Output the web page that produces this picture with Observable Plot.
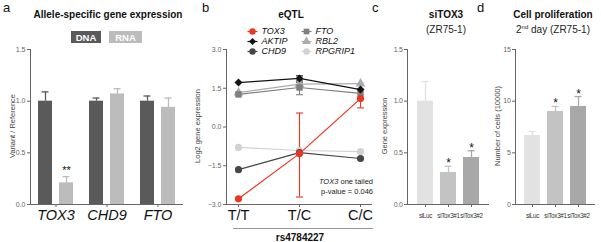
<!DOCTYPE html>
<html>
<head>
<meta charset="utf-8">
<script src="https://cdn.jsdelivr.net/npm/d3@7"></script>
<script src="https://cdn.jsdelivr.net/npm/@observablehq/plot@0.6"></script>
<style>
  body { margin: 0; background: #fff; }
  #fig { position: relative; width: 601px; height: 242px; overflow: hidden; background: #fff; }
  #fig svg { position: absolute; top: 0; }
</style>
</head>
<body>
<div id="fig"></div>
<script>
// ---------- DATA ----------
// a: allele-specific expression
const genesA = ["TOX3", "CHD9", "FTO"];
const allelesA = ["DNA", "RNA"];
const ratioA = [1.00, 0.21, 1.00, 1.07, 1.00, 0.94];   // gene x allele
const errHiA = [1.09, 0.27, 1.03, 1.12, 1.05, 1.03];
const starA = ["", "**", "", "", "", ""];
const ticksA = [0, 0.5, 1.0, 1.5];

// b: eQTL
const genotypes = ["T/T", "T/C", "C/C"];
const seriesB = ["TOX3", "AKTIP", "CHD9", "FTO", "RBL2", "RPGRIP1"];
const tox3 = [-2.78, -1.03, 1.10];
const aktip = [1.72, 1.88, 1.45];
const chd9 = [-1.65, -0.99, -1.22];
const fto = [1.26, 1.53, 1.30];
const rbl2 = [1.33, 1.66, 1.68];
const rpgrip1 = [-0.79, -0.91, -0.95];
const errSeriesB = ["TOX3", "TOX3", "AKTIP", "FTO"];
const errGenoB = ["T/C", "C/C", "T/C", "T/C"];
const errLoB = [-2.71, 0.74, 1.74, 1.25];
const errHiB = [0.54, 1.46, 1.98, 1.80];
const ticksB = [-3, -1.5, 0, 1.5, 3];

// c: siTOX3 gene expression
const condC = ["siLuc", "siTox3#1", "siTox3#2"];
const exprC = [1.00, 0.31, 0.455];
const errHiC = [1.19, 0.37, 0.52];
const starC = ["", "*", "*"];
const ticksC = [0, 0.5, 1.0, 1.5];

// d: cell proliferation
const cellsD = [6.68, 9.00, 9.49];
const errHiD = [7.07, 9.49, 10.45];
const starD = ["", "*", "*"];
const ticksD = [0, 5, 10, 15];

// ---------- STYLES ----------
const FONT = '"Liberation Sans", Arial, Helvetica, sans-serif';
const AXIS = "#666";
const alleleColors = ["#5a5a5a", "#bcbcbc"];
const condColors = ["#e2e2e2", "#c3c3c3", "#a8a8a8"];
const seriesColors = ["#ee3423", "#141414", "#474747", "#7f7f7f", "#ababab", "#d2d2d2"];
const seriesSymbols = ["circle", "diamond2", "circle", "square", "triangle", "circle"];
// horizontal dash symbol (for error-bar caps and legend line keys)
const dash = {draw(ctx, size) { const w = Math.sqrt(size / Math.PI); ctx.moveTo(-w, 0); ctx.lineTo(w, 0); }};

const fig = document.getElementById("fig");
function place(node, left) { node.style.left = left + "px"; fig.appendChild(node); }
const baseStyle = {fontFamily: FONT, background: "transparent", overflow: "visible", color: AXIS};
const narrowStyle = {...baseStyle, letterSpacing: "-0.3px"};

// ---------- PANEL A ----------
const dataA = genesA.flatMap((g, i) => allelesA.map((a, j) => ({
  gene: g, allele: a, value: ratioA[i * 2 + j], hi: errHiA[i * 2 + j], star: starA[i * 2 + j]
})));
const plotA = Plot.plot({
  width: 200, height: 242, marginLeft: 29, marginRight: 17, marginTop: 49, marginBottom: 38,
  style: baseStyle,
  fx: {domain: genesA, paddingInner: 0, paddingOuter: 0, label: null},
  x: {domain: allelesA, paddingInner: 0.32, paddingOuter: 0.36, axis: null},
  y: {domain: [0, 1.5], label: null},
  color: {domain: allelesA, range: alleleColors},
  marks: [
    Plot.ruleX(dataA, {fx: "gene", x: "allele", y1: "value", y2: "hi", stroke: "allele", strokeWidth: 1.3}),
    Plot.tickY(dataA, {fx: "gene", x: "allele", y: "hi", stroke: "allele", strokeWidth: 1.3, insetLeft: 3.5, insetRight: 3.5}),
    Plot.barY(dataA, {fx: "gene", x: "allele", y: "value", fill: "allele"}),
    Plot.text(dataA, {fx: "gene", x: "allele", y: "hi", text: "star", lineAnchor: "bottom", dy: -3, fontSize: 11, fill: "#111"}),
    Plot.ruleY([0], {stroke: AXIS}),
    Plot.frame({anchor: "left", facetAnchor: "left", stroke: AXIS}),
    Plot.axisY({ticks: ticksA, tickFormat: d3.format(".1f"), tickSize: 3, tickPadding: 2, fontSize: 7, label: null}),
    Plot.axisFx({anchor: "bottom", tickSize: 3, tickPadding: 2, fontSize: 14.5, fontStyle: "italic", fill: "#111", label: null})
  ]
});
place(plotA, 0);

// ---------- PANEL B ----------
const valuesB = {TOX3: tox3, AKTIP: aktip, CHD9: chd9, FTO: fto, RBL2: rbl2, RPGRIP1: rpgrip1};
const drawOrder = seriesB.slice().reverse();
const dataB = drawOrder.flatMap(s => genotypes.map((g, i) => ({series: s, geno: g, value: valuesB[s][i]})));
const errB = errSeriesB.map((s, i) => ({series: s, geno: errGenoB[i], lo: errLoB[i], hi: errHiB[i]}));
const colorB = {domain: seriesB, range: seriesColors};
const symbolB = {domain: seriesB, range: seriesSymbols};
const plotB = Plot.plot({
  width: 180, height: 242, marginLeft: 26, marginRight: 8, marginTop: 49, marginBottom: 38,
  style: baseStyle,
  x: {type: "point", domain: genotypes, padding: 0.18, label: null},
  y: {domain: [-3, 3], label: null},
  color: colorB,
  symbol: symbolB,
  marks: [
    Plot.ruleY([-3], {stroke: AXIS}),
    Plot.frame({anchor: "left", stroke: AXIS}),
    Plot.ruleX(errB, {x: "geno", y1: "lo", y2: "hi", stroke: "series", strokeWidth: 1.1}),
    Plot.dot(errB, {x: "geno", y: "lo", symbol: dash, r: 3.5, stroke: "series", strokeWidth: 1.1}),
    Plot.dot(errB, {x: "geno", y: "hi", symbol: dash, r: 3.5, stroke: "series", strokeWidth: 1.1}),
    Plot.line(dataB, {x: "geno", y: "value", z: "series", stroke: "series", strokeWidth: 1.2}),
    Plot.dot(dataB, {x: "geno", y: "value", symbol: "series", fill: "series", stroke: "none", r: 3.6}),
    Plot.axisY({ticks: ticksB, tickFormat: d3.format(".1f"), tickSize: 3, tickPadding: 2, fontSize: 7, label: null}),
    Plot.axisX({tickSize: 3, tickPadding: 2, fontSize: 14.5, fill: "#111", label: null})
  ]
});
place(plotB, 200);

// legend for b (column-major, 3 rows)
const legB = seriesB.map((s, i) => ({name: s, col: Math.floor(i / 3), row: i % 3}));
const legendB = Plot.plot({
  width: 180, height: 60, marginLeft: 0, marginRight: 0, marginTop: 0, marginBottom: 0,
  style: baseStyle,
  x: {type: "point", domain: [0, 1], range: [52, 106], padding: 0, axis: null},
  y: {type: "point", domain: [0, 1, 2], range: [30.5, 51], padding: 0, axis: null},
  color: colorB,
  symbol: symbolB,
  marks: [
    Plot.dot(legB, {x: "col", y: "row", symbol: dash, r: 5, stroke: "name", strokeWidth: 1.2}),
    Plot.dot(legB, {x: "col", y: "row", symbol: "name", fill: "name", stroke: "none", r: 3.2}),
    Plot.text(legB, {x: "col", y: "row", text: "name", dx: 9, textAnchor: "start", fontSize: 9, fontStyle: "italic", fill: "#111"})
  ]
});
place(legendB, 200);

// ---------- PANEL C ----------
const dataC = condC.map((c, i) => ({cond: c, value: exprC[i], hi: errHiC[i], star: starC[i]}));
const colorCD = {domain: condC, range: condColors};
const plotC = Plot.plot({
  width: 125, height: 242, marginLeft: 37, marginRight: 6, marginTop: 49, marginBottom: 38,
  style: narrowStyle,
  x: {domain: condC, paddingInner: 0.32, paddingOuter: 0.42, label: null},
  y: {domain: [0, 1.5], label: null},
  color: colorCD,
  marks: [
    Plot.ruleX(dataC, {x: "cond", y1: "value", y2: "hi", stroke: "cond", strokeWidth: 1.3}),
    Plot.tickY(dataC, {x: "cond", y: "hi", stroke: "cond", strokeWidth: 1.3, insetLeft: 4.5, insetRight: 4.5}),
    Plot.barY(dataC, {x: "cond", y: "value", fill: "cond"}),
    Plot.text(dataC, {x: "cond", y: "hi", text: "star", lineAnchor: "bottom", dy: 1, fontSize: 12, fill: "#111"}),
    Plot.ruleY([0], {stroke: AXIS}),
    Plot.frame({anchor: "left", stroke: AXIS}),
    Plot.axisY({ticks: ticksC, tickFormat: d3.format(".1f"), tickSize: 3, tickPadding: 2, fontSize: 7, label: null}),
    Plot.axisX({tickSize: 3, tickPadding: 6, fontSize: 6.3, fill: "#333", label: null})
  ]
});
place(plotC, 370);

// ---------- PANEL D ----------
const dataD = condC.map((c, i) => ({cond: c, value: cellsD[i], hi: errHiD[i], star: starD[i]}));
const plotD = Plot.plot({
  width: 106, height: 242, marginLeft: 20, marginRight: 6, marginTop: 49, marginBottom: 38,
  style: narrowStyle,
  x: {domain: condC, paddingInner: 0.3, paddingOuter: 0.36, label: null},
  y: {domain: [0, 15], label: null},
  color: colorCD,
  marks: [
    Plot.ruleX(dataD, {x: "cond", y1: "value", y2: "hi", stroke: "cond", strokeWidth: 1.3}),
    Plot.tickY(dataD, {x: "cond", y: "hi", stroke: "cond", strokeWidth: 1.3, insetLeft: 4.5, insetRight: 4.5}),
    Plot.barY(dataD, {x: "cond", y: "value", fill: "cond"}),
    Plot.text(dataD, {x: "cond", y: "hi", text: "star", lineAnchor: "bottom", dy: 1, fontSize: 12, fill: "#111"}),
    Plot.ruleY([0], {stroke: AXIS}),
    Plot.frame({anchor: "left", stroke: AXIS}),
    Plot.axisY({ticks: ticksD, tickFormat: d3.format("d"), tickSize: 3, tickPadding: 2, fontSize: 7, label: null}),
    Plot.axisX({tickSize: 3, tickPadding: 6, fontSize: 6.3, fill: "#333", label: null})
  ]
});
place(plotD, 495);

// ---------- TEXT OVERLAY ----------
const ov = d3.create("svg").attr("width", 601).attr("height", 242)
  .style("left", "0px").style("font-family", FONT).style("overflow", "visible");
function t(str, x, y, o = {}) {
  const el = ov.append("text").attr("x", x).attr("y", y)
    .attr("font-size", o.size || 10).attr("fill", o.fill || "#111")
    .attr("text-anchor", o.anchor || "start");
  if (o.weight) el.attr("font-weight", o.weight);
  if (o.style) el.attr("font-style", o.style);
  if (o.rotate) el.attr("transform", `rotate(-90 ${x} ${y})`).attr("dy", "0.35em");
  el.text(str);
  return el;
}
// panel letters
t("a", 3, 12, {size: 13});
t("b", 202, 12, {size: 13});
t("c", 372, 12, {size: 13});
t("d", 477, 12, {size: 13});
// titles
t("Allele-specific gene expression", 108, 18, {weight: "bold", anchor: "middle"});
t("eQTL", 291, 18, {weight: "bold", anchor: "middle"});
t("siTOX3", 446, 18, {weight: "bold", anchor: "middle"});
t("(ZR75-1)", 446, 33, {anchor: "middle", fill: "#222"});
t("Cell proliferation", 553, 18, {weight: "bold", anchor: "middle"});
const sub = t("", 553, 33, {anchor: "middle", fill: "#222"});
sub.append("tspan").text("2");
sub.append("tspan").attr("font-size", 6).attr("dy", -4).text("nd");
sub.append("tspan").attr("dy", 4).text(" day (ZR75-1)");
// y-axis labels
t("Variant / Reference", 12, 126, {size: 7.5, anchor: "middle", rotate: true, fill: "#444"});
t("Log2 gene expression", 197, 126, {size: 7.5, anchor: "middle", rotate: true, fill: "#444"});
t("Gene expression", 384, 126, {size: 7.5, anchor: "middle", rotate: true, fill: "#444"});
t("Number of cells (10000)", 497, 126, {size: 7.5, anchor: "middle", rotate: true, fill: "#444"});
// DNA / RNA key for a
ov.append("rect").attr("x", 71).attr("y", 31).attr("width", 30).attr("height", 12).attr("fill", alleleColors[0]);
ov.append("rect").attr("x", 109).attr("y", 31).attr("width", 33).attr("height", 12).attr("fill", alleleColors[1]);
t("DNA", 86, 41, {size: 9.5, weight: "bold", anchor: "middle", fill: "#fff"});
t("RNA", 125.5, 41, {size: 9.5, weight: "bold", anchor: "middle", fill: "#fff"});
// b annotation
const an = t("", 373, 184, {size: 7.5, anchor: "end", fill: "#222"});
an.append("tspan").attr("font-style", "italic").text("TOX3");
an.append("tspan").text(" one tailed");
t("p-value = 0.046", 373, 194, {size: 7.5, anchor: "end", fill: "#222"});
// b x-axis grouping
ov.append("line").attr("x1", 233).attr("x2", 373).attr("y1", 228.5).attr("y2", 228.5).attr("stroke", "#999");
t("rs4784227", 300, 241, {weight: "bold", anchor: "middle", size: 10});
fig.appendChild(ov.node());
</script>
</body>
</html>
